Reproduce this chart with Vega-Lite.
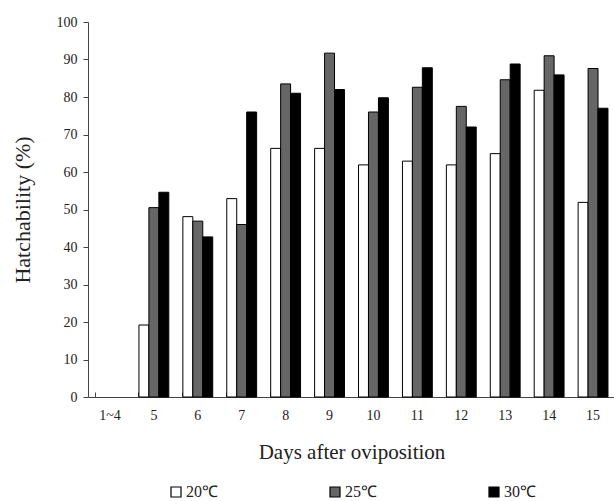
{
  "$schema": "https://vega.github.io/schema/vega-lite/v6.json",
  "autosize": "none",
  "width": 527,
  "height": 375,
  "padding": {"left": 88, "top": 22, "right": 0, "bottom": 104},
  "background": "white",
  "data": {
    "values": [
      {"day": "5", "temp": "20℃", "v": 19.2}, {"day": "5", "temp": "25℃", "v": 50.5}, {"day": "5", "temp": "30℃", "v": 54.6},
      {"day": "6", "temp": "20℃", "v": 48.1}, {"day": "6", "temp": "25℃", "v": 46.9}, {"day": "6", "temp": "30℃", "v": 42.7},
      {"day": "7", "temp": "20℃", "v": 52.9}, {"day": "7", "temp": "25℃", "v": 46.0}, {"day": "7", "temp": "30℃", "v": 76.0},
      {"day": "8", "temp": "20℃", "v": 66.3}, {"day": "8", "temp": "25℃", "v": 83.5}, {"day": "8", "temp": "30℃", "v": 81.0},
      {"day": "9", "temp": "20℃", "v": 66.3}, {"day": "9", "temp": "25℃", "v": 91.7}, {"day": "9", "temp": "30℃", "v": 82.0},
      {"day": "10", "temp": "20℃", "v": 61.9}, {"day": "10", "temp": "25℃", "v": 76.0}, {"day": "10", "temp": "30℃", "v": 79.8},
      {"day": "11", "temp": "20℃", "v": 62.9}, {"day": "11", "temp": "25℃", "v": 82.6}, {"day": "11", "temp": "30℃", "v": 87.8},
      {"day": "12", "temp": "20℃", "v": 61.9}, {"day": "12", "temp": "25℃", "v": 77.5}, {"day": "12", "temp": "30℃", "v": 72.0},
      {"day": "13", "temp": "20℃", "v": 64.9}, {"day": "13", "temp": "25℃", "v": 84.6}, {"day": "13", "temp": "30℃", "v": 88.8},
      {"day": "14", "temp": "20℃", "v": 81.8}, {"day": "14", "temp": "25℃", "v": 91.0}, {"day": "14", "temp": "30℃", "v": 85.9},
      {"day": "15", "temp": "20℃", "v": 51.9}, {"day": "15", "temp": "25℃", "v": 87.6}, {"day": "15", "temp": "30℃", "v": 77.0}
    ]
  },
  "mark": {"type": "bar", "stroke": "black", "strokeWidth": 1},
  "encoding": {
    "x": {
      "field": "day", "type": "nominal",
      "scale": {"domain": ["1~4", "5", "6", "7", "8", "9", "10", "11", "12", "13", "14", "15"], "paddingInner": 0.32, "paddingOuter": 0.16},
      "axis": {
        "title": "Days after oviposition", "labelAngle": 0,
        "titleFont": "Liberation Serif", "titleFontSize": 21, "titleFontWeight": "normal", "titleColor": "#222", "titlePadding": 19,
        "labelFont": "Liberation Serif", "labelFontSize": 14, "labelColor": "#222", "labelPadding": 16,
        "domainColor": "#444", "tickColor": "#444", "tickSize": -5, "bandPosition": 0, "grid": false
      }
    },
    "xOffset": {"field": "temp", "type": "nominal", "scale": {"paddingInner": 0, "paddingOuter": 0}},
    "y": {
      "field": "v", "type": "quantitative",
      "scale": {"domain": [0, 100]},
      "axis": {
        "title": "Hatchability (%)", "values": [0, 10, 20, 30, 40, 50, 60, 70, 80, 90, 100], "grid": false,
        "titleFont": "Liberation Serif", "titleFontSize": 22, "titleFontWeight": "normal", "titleColor": "#222", "titlePadding": 22,
        "labelFont": "Liberation Serif", "labelFontSize": 14, "labelColor": "#222", "labelPadding": 6,
        "domainColor": "#444", "tickColor": "#444", "tickSize": 5
      }
    },
    "fill": {
      "field": "temp", "type": "nominal",
      "scale": {"domain": ["20℃", "25℃", "30℃"], "range": ["#ffffff", "#666666", "#000000"]},
      "legend": {
        "title": null, "orient": "none", "direction": "horizontal", "legendX": 80, "legendY": 462,
        "symbolType": "square", "symbolSize": 100, "symbolStrokeColor": "black", "symbolStrokeWidth": 1.2,
        "labelFont": "Liberation Serif", "labelFontSize": 16, "labelColor": "#222", "labelOffset": 2,
        "columnPadding": 109
      }
    }
  },
  "config": {"view": {"stroke": null}}
}
